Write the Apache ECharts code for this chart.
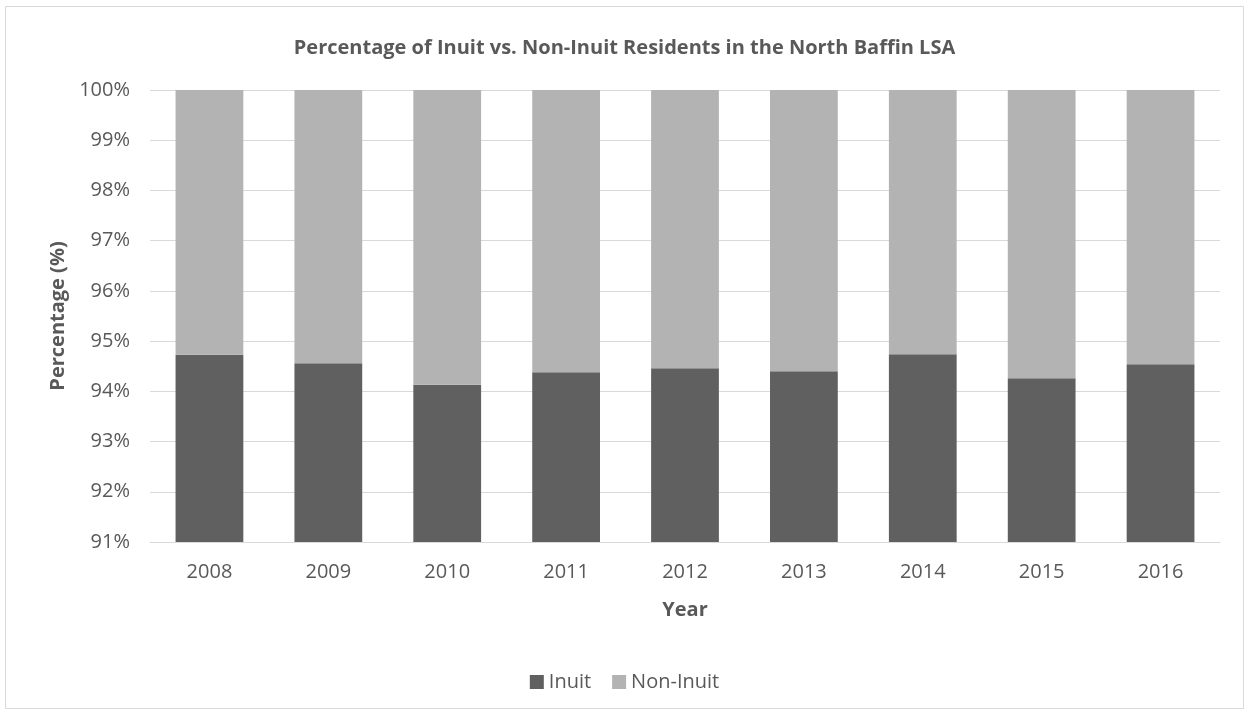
<!DOCTYPE html>
<html>
<head>
<meta charset="utf-8">
<title>Inuit vs Non-Inuit</title>
<script src="https://cdn.jsdelivr.net/npm/echarts@6/dist/echarts.min.js"></script>
<style>
	html,body{margin:0;padding:0;background:#fff;}
	#main{width:1249px;height:712px;}
</style>
</head>
<body>
<div id="main"></div>
<script>
// 数据
var years = ['2008','2009','2010','2011','2012','2013','2014','2015','2016'];
var inuit = [94.73, 94.56, 94.13, 94.38, 94.46, 94.40, 94.74, 94.26, 94.54];
var nonInuit = [5.27, 5.44, 5.87, 5.62, 5.54, 5.60, 5.26, 5.74, 5.46];

var chart = echarts.init(document.getElementById('main'));
var txtColor = '#595959';
var font = '"Open Sans", sans-serif';

var option = {
	animation: false,
	textStyle: {fontFamily: font},
	title: {
		text: 'Percentage of Inuit vs. Non-Inuit Residents in the North Baffin LSA',
		left: 'center',
		top: 33,
		textStyle: {color: txtColor, fontSize: 20, fontWeight: 'bold', fontFamily: font}
	},
	graphic: [{
		type: 'rect',
		shape: {x: 5.5, y: 6.5, width: 1238, height: 702},
		style: {fill: 'none', stroke: '#d9d9d9', lineWidth: 1},
		silent: true
	}],
	legend: {
		data: ['Inuit', 'Non-Inuit'],
		top: 667,
		left: 'center',
		itemWidth: 14,
		itemHeight: 14,
		itemGap: 21,
		icon: 'rect',
		textStyle: {color: txtColor, fontSize: 20, fontFamily: font}
	},
	grid: {left: 150, right: 29, top: 90, bottom: 170},
	xAxis: {
		type: 'category',
		data: years,
		name: 'Year',
		nameLocation: 'middle',
		nameGap: 58,
		nameTextStyle: {color: txtColor, fontSize: 20, fontWeight: 'bold', fontFamily: font},
		axisLine: {lineStyle: {color: '#d9d9d9', width: 1}},
		axisTick: {show: false},
		axisLabel: {color: txtColor, fontSize: 20, margin: 20, fontFamily: font}
	},
	yAxis: {
		type: 'value',
		min: 91,
		max: 100,
		interval: 1,
		name: 'Percentage (%)',
		nameLocation: 'middle',
		nameGap: 82,
		nameTextStyle: {color: txtColor, fontSize: 20, fontWeight: 'bold', fontFamily: font},
		axisLine: {show: false},
		axisTick: {show: false},
		splitLine: {lineStyle: {color: '#d9d9d9', width: 1}},
		axisLabel: {color: txtColor, fontSize: 20, margin: 20, fontFamily: font,
			formatter: function (v) { return v + '%'; }}
	},
	series: [{
		name: 'Inuit',
		type: 'bar',
		stack: 'total',
		barWidth: '57%',
		data: inuit,
		itemStyle: {color: '#606060'}
	}, {
		name: 'Non-Inuit',
		type: 'bar',
		stack: 'total',
		barWidth: '57%',
		data: nonInuit,
		itemStyle: {color: '#b3b3b3'}
	}]
};
chart.setOption(option);
</script>
</body>
</html>
